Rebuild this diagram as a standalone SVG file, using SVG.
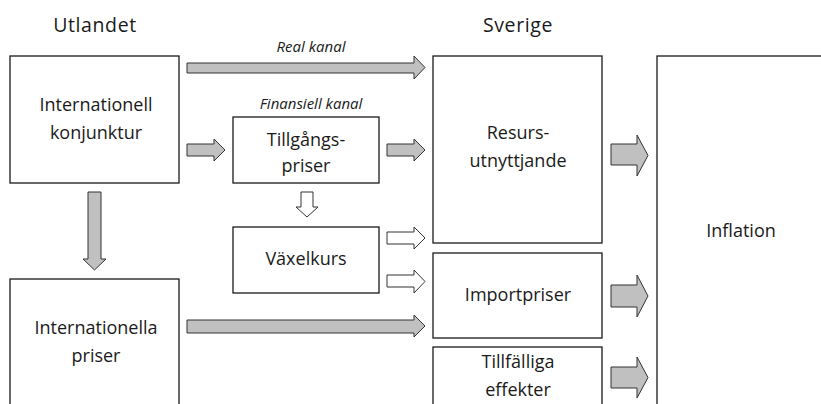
<svg xmlns="http://www.w3.org/2000/svg" width="821" height="404" viewBox="0 0 821 404">
<style>
.box{fill:#fff;stroke:#1a1a1a;stroke-width:1.3}
.ga{fill:#c0c0c0;stroke:#333;stroke-width:1}
.wa{fill:#fff;stroke:#333;stroke-width:1}
text{font-family:"Open Sans","Lato","Liberation Sans",sans-serif;font-size:18px;fill:#1a1a1a;text-anchor:middle}
.h{font-size:19.5px;letter-spacing:0.6px}
.it{font-style:italic;font-size:15px}
</style>
<rect width="821" height="404" fill="#fff"/>
<text class="h" x="95" y="32">Utlandet</text>
<text class="h" x="518" y="32">Sverige</text>
<g id="konjunktur"><rect class="box" x="10" y="56" width="169" height="127"/><text x="96" y="111">Internationell</text><text x="96" y="139">konjunktur</text></g>
<g id="priser"><rect class="box" x="10" y="279" width="169" height="140"/><text x="96" y="334">Internationella</text><text x="96" y="362">priser</text></g>
<g id="tillgangs"><rect class="box" x="233" y="117" width="146" height="66"/><text x="306" y="146">Tillgångs-</text><text x="306" y="172">priser</text></g>
<g id="vaxelkurs"><rect class="box" x="233" y="227" width="146" height="66"/><text x="306" y="265">Växelkurs</text></g>
<g id="resurs"><rect class="box" x="433" y="56" width="169" height="187"/><text x="518" y="139">Resurs-</text><text x="518" y="167">utnyttjande</text></g>
<g id="import"><rect class="box" x="433" y="253" width="169" height="85"/><text x="518" y="301">Importpriser</text></g>
<g id="tillfalliga"><rect class="box" x="433" y="347" width="169" height="70"/><text x="518" y="368">Tillfälliga</text><text x="518" y="396">effekter</text></g>
<g id="inflation"><rect class="box" x="657" y="56" width="180" height="370"/><text x="741" y="237">Inflation</text></g>
<g id="labels"><text class="it" x="311" y="52">Real kanal</text><text class="it" x="311" y="109">Finansiell kanal</text></g>
<g id="connectors">
<path class="ga" d="M187 63H414V56L425 67.5L414 79V73H187Z"/>
<path class="ga" d="M187 144H214V139L225 150L214 161V156H187Z"/>
<path class="ga" d="M387 144H414V139L425 150L414 161V156H387Z"/>
<path class="ga" d="M611 144H637V135L648 155.5L637 176V165H611Z"/>
<path class="ga" d="M88 192H101V259H106L94.5 270L83 259H88Z"/>
<path class="wa" d="M301 192H313V207H318L307 217L296 207H301Z"/>
<path class="wa" d="M387 232H414V227L425 238L414 249V244H387Z"/>
<path class="wa" d="M387 275H414V270L425 281.5L414 293V287H387Z"/>
<path class="ga" d="M187 320H414V315L425 326L414 337V333H187Z"/>
<path class="ga" d="M611 285H637V275L648 296L637 317V307H611Z"/>
<path class="ga" d="M611 367H637V357L648 377.5L637 398V388H611Z"/>
</g>
</svg>
